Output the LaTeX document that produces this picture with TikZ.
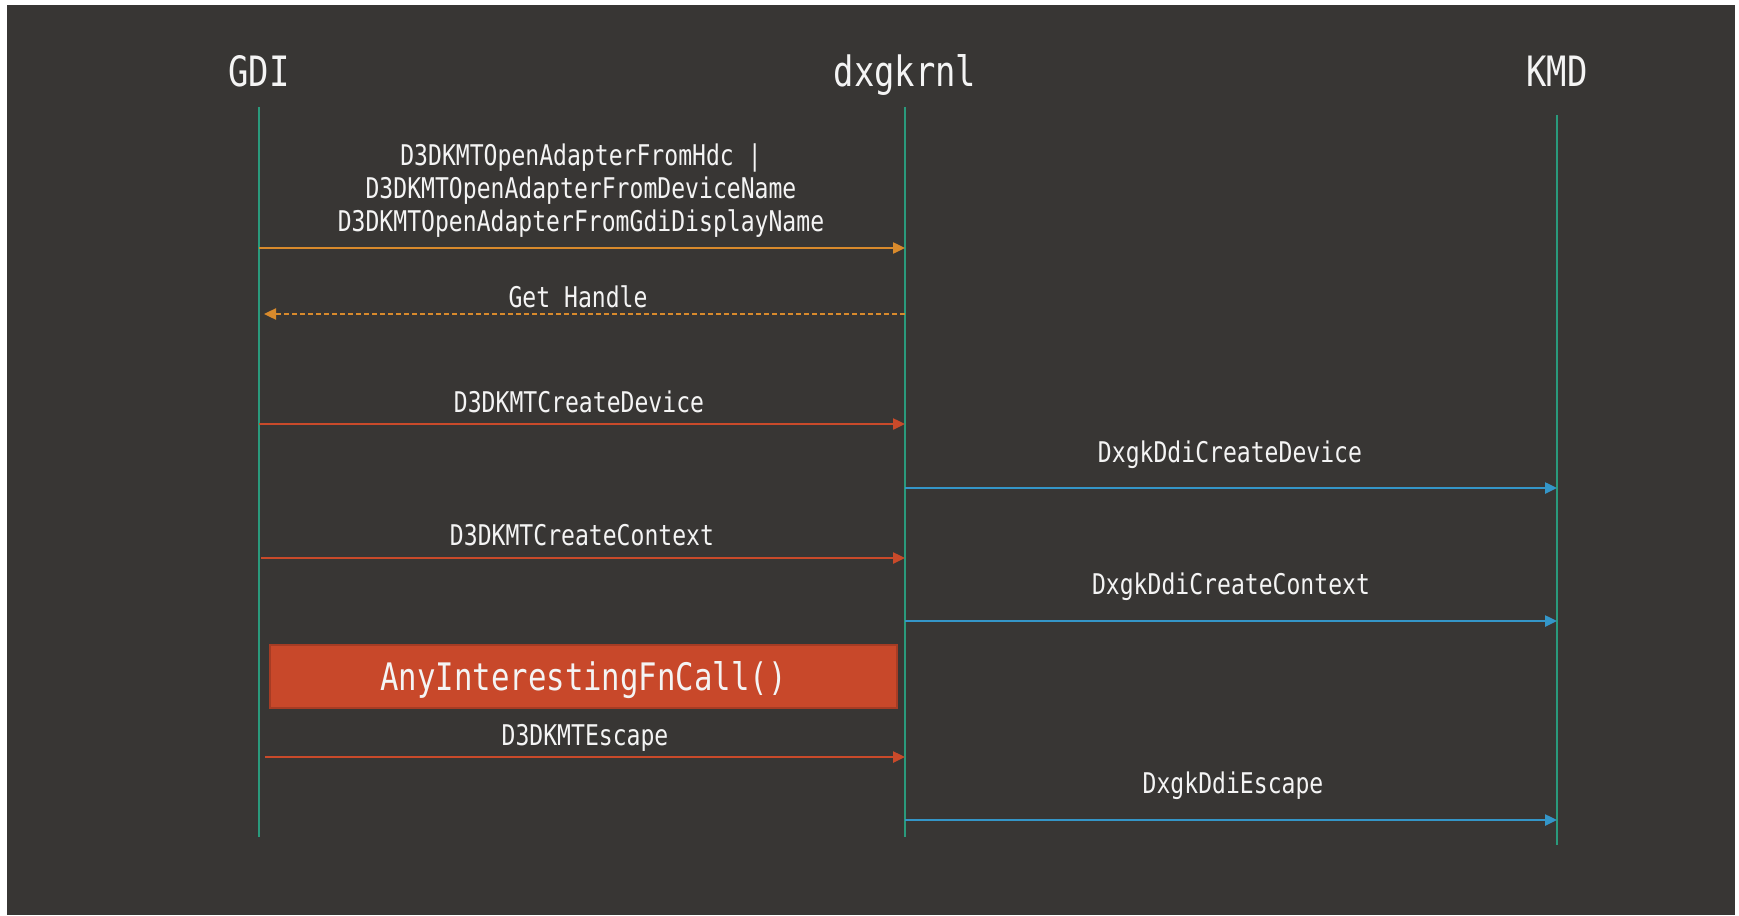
\documentclass[tikz,border=0pt]{standalone}
\usepackage{fontspec}
\usetikzlibrary{arrows.meta}
\newfontfamily\seqfont[FakeStretch=0.81]{DejaVu Sans Mono}
\definecolor{bg}{HTML}{383634}
\definecolor{life}{HTML}{2A9A7C}
\definecolor{amber}{HTML}{D88A2C}
\definecolor{rust}{HTML}{C94A2A}
\definecolor{sky}{HTML}{3496C8}
\definecolor{boxfill}{HTML}{C8482A}
\definecolor{boxedge}{HTML}{A63C24}
\definecolor{ink}{HTML}{F4F4F4}
\begin{document}
\begin{tikzpicture}[x=1pt,y=-1pt,
  head/.style={text=ink, font=\seqfont\fontsize{41.8pt}{44pt}\selectfont, anchor=base, inner sep=0pt},
  lbl/.style={text=ink, font=\seqfont\fontsize{28.5pt}{33pt}\selectfont, anchor=base, inner sep=0pt},
  lifeline/.style={draw=life, line width=2pt},
  msg/.style={line width=2.4pt, -{Triangle[length=12pt,width=11pt]}},
  call/.style={msg, draw=amber},
  reply/.style={msg, draw=amber, dash pattern=on 5pt off 3pt, -{Triangle[length=12pt,width=11pt,fill=amber]}},
  user/.style={msg, draw=rust},
  kern/.style={msg, draw=sky},
  fnbox/.style={fill=boxfill, draw=boxedge, line width=2pt, text=ink,
    font=\seqfont\fontsize{37.9pt}{40pt}\selectfont, inner sep=0pt,
    text height=28pt, text depth=0pt, minimum width=627pt, minimum height=63pt}
]
% page and dark panel
\useasboundingbox (0,0) rectangle (1739,915);
\fill[white] (0,0) rectangle (1739,915);
\fill[bg] (7,5) rectangle (1735,915);

% participants
\node[head] (gdi) at (259,87) {GDI};
\node[head] (dxg) at (905,87) {dxgkrnl};
\node[head] (kmd) at (1557,87) {KMD};

\coordinate (gdi-top) at (259,107);
\coordinate (gdi-bot) at (259,837);
\coordinate (dxg-top) at (905,107);
\coordinate (dxg-bot) at (905,837);
\coordinate (kmd-top) at (1557,115);
\coordinate (kmd-bot) at (1557,845);

\draw[lifeline] (gdi-top) -- (gdi-bot);
\draw[lifeline] (dxg-top) -- (dxg-bot);
\draw[lifeline] (kmd-top) -- (kmd-bot);

% message end points
\coordinate (m1s) at (259,248);  \coordinate (m1e) at (905,248);
\coordinate (m2s) at (905,314);  \coordinate (m2e) at (264,314);
\coordinate (m3s) at (259,424);  \coordinate (m3e) at (905,424);
\coordinate (m4s) at (905,488);  \coordinate (m4e) at (1557,488);
\coordinate (m5s) at (261,558);  \coordinate (m5e) at (905,558);
\coordinate (m6s) at (905,621);  \coordinate (m6e) at (1557,621);
\coordinate (m7s) at (265,757);  \coordinate (m7e) at (905,757);
\coordinate (m8s) at (905,820);  \coordinate (m8e) at (1557,820);

% messages
\draw[call]  (m1s) -- (m1e);
\draw[reply] (m2s) -- (m2e);
\draw[user]  (m3s) -- (m3e);
\draw[kern]  (m4s) -- (m4e);
\draw[user]  (m5s) -- (m5e);
\draw[kern]  (m6s) -- (m6e);
\draw[user]  (m7s) -- (m7e);
\draw[kern]  (m8s) -- (m8e);

% labels (base of a multi-line node is its last line)
\node[lbl, align=center] (l1) at (581,231) {D3DKMTOpenAdapterFromHdc |\\D3DKMTOpenAdapterFromDeviceName\\D3DKMTOpenAdapterFromGdiDisplayName};
\node[lbl] (l2) at (578,307) {Get Handle};
\node[lbl] (l3) at (579,412) {D3DKMTCreateDevice};
\node[lbl] (l4) at (1230,462) {DxgkDdiCreateDevice};
\node[lbl] (l5) at (582,545) {D3DKMTCreateContext};
\node[lbl] (l6) at (1231,594) {DxgkDdiCreateContext};
\node[lbl] (l7) at (585,745) {D3DKMTEscape};
\node[lbl] (l8) at (1233,793) {DxgkDdiEscape};

% highlighted call
\node[fnbox] (fn) at (583.5,676.5) {AnyInterestingFnCall()};
\end{tikzpicture}
\end{document}
